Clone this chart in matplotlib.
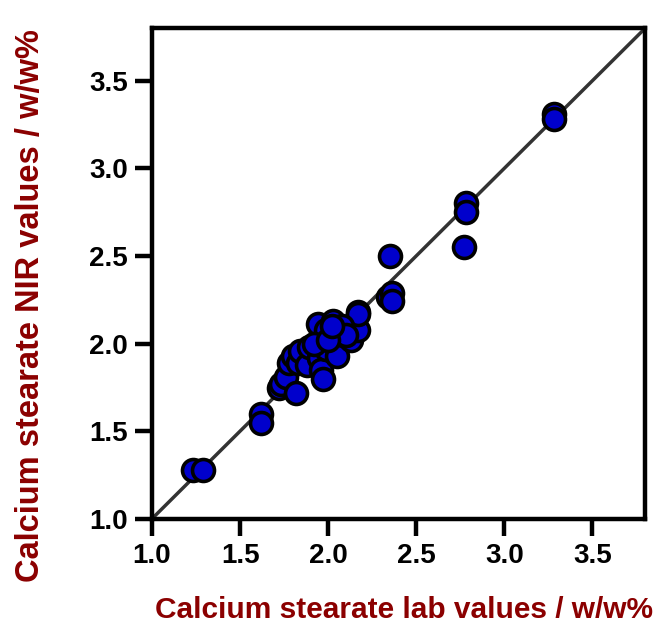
import matplotlib
matplotlib.use('Agg')
import matplotlib.pyplot as plt
import numpy as np

plt.rcParams['font.family'] = ['Liberation Sans', 'DejaVu Sans']
plt.rcParams['font.weight'] = 'bold'

# Donnees (lab, NIR)
lab_values = [1.23, 1.29, 1.62, 1.62,
              1.72, 1.73, 1.76, 1.78, 1.80, 1.82, 1.83, 1.84, 1.88, 1.89,
              1.94, 1.95, 1.96, 1.97, 1.99, 1.99, 2.03, 2.05, 2.05, 2.13,
              2.17, 2.17, 2.17, 2.08, 2.10, 1.92, 2.00, 2.02,
              2.34, 2.36, 2.36, 2.35,
              2.77, 2.78, 2.78,
              3.28, 3.28]
nir_values = [1.28, 1.28, 1.60, 1.545,
              1.745, 1.77, 1.81, 1.89, 1.93, 1.72, 1.89, 1.96, 1.88, 1.98,
              2.11, 1.92, 1.85, 1.80, 2.075, 1.97, 2.13, 2.06, 1.93, 2.02,
              2.18, 2.075, 2.17, 2.10, 2.05, 2.00, 2.02, 2.10,
              2.265, 2.29, 2.245, 2.50,
              2.55, 2.80, 2.75,
              3.31, 3.28]

axis_min, axis_max = 1.0, 3.8
ticks = [1.0, 1.5, 2.0, 2.5, 3.0, 3.5]

fig = plt.figure(figsize=(6.61, 6.28), dpi=100)
ax = fig.add_axes([0.230, 0.174, 0.746, 0.781])

ax.plot([axis_min, axis_max], [axis_min, axis_max], color='#333333', linewidth=2.5, zorder=1)
ax.scatter(lab_values, nir_values, s=250, c='#0000CC', edgecolors='black',
           linewidths=2.6, zorder=2)

ax.set_xlim(axis_min, axis_max)
ax.set_ylim(axis_min, axis_max)
ax.set_xticks(ticks)
ax.set_yticks(ticks)
ax.set_xticklabels([f'{t:.1f}' for t in ticks])
ax.set_yticklabels([f'{t:.1f}' for t in ticks])

for sp in ax.spines.values():
    sp.set_linewidth(3.2)
ax.tick_params(direction='out', length=12.5, width=3.2, labelsize=20, pad=5)

ax.set_xlabel('Calcium stearate lab values / w/w%', fontsize=21.5,
              fontweight='bold', color='#8B0000')
ax.set_ylabel('Calcium stearate NIR values / w/w%', fontsize=23.5,
              fontweight='bold', color='#8B0000')
ax.xaxis.set_label_coords(0.51, -0.158)
ax.yaxis.set_label_coords(-0.215, 0.435)

fig.savefig('out.png', dpi=100)
